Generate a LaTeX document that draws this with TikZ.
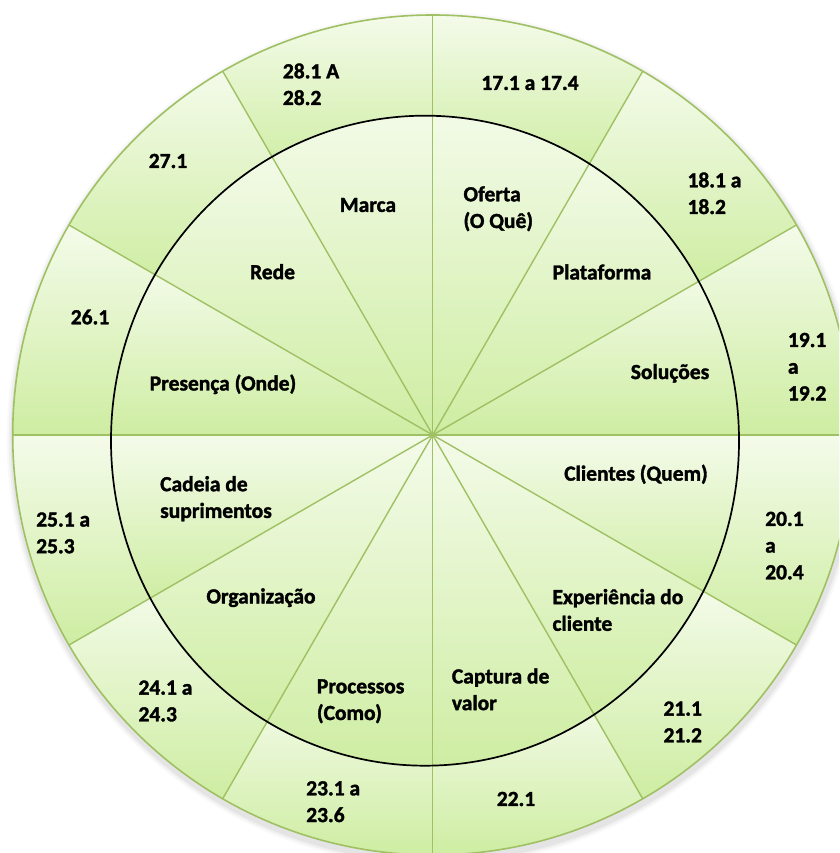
\documentclass[tikz,border=0pt]{standalone}
\usepackage{fontspec}
\setmainfont{Carlito}
\newfontfamily\lblfont{Carlito}[BoldFeatures={FakeBold=1.6}]
\usetikzlibrary{calc}
\definecolor{ringtop}{RGB}{244,251,234}
\definecolor{ringbot}{RGB}{206,237,162}
\definecolor{spokecol}{RGB}{160,192,100}
\tikzset{
  lbl/.style={font=\lblfont\bfseries\fontsize{21.5}{26.7}\selectfont, inner sep=0pt, align=left, text=black},
  seg/.style={top color=ringtop, bottom color=ringbot, draw=none},
  spokeline/.style={draw=spokecol, line width=1.4pt},
  outerline/.style={draw=spokecol, line width=1.6pt},
}
\begin{document}
\begin{tikzpicture}[x=1pt,y=1pt]
\useasboundingbox (0,0) rectangle (839,853);
\clip (0,0) rectangle (839,853);
\coordinate (C) at (432.7,418);
\coordinate (E) at (425,412.3);
% soft shadow
\foreach \r/\o in {427/0.025,425/0.035,423/0.05}{
  \fill[black,opacity=\o] ($(C)+(1,-4)$) circle (\r);
}
% outer ring segments
\foreach \a in {0,30,...,330}{
  \pgfmathsetmacro\b{\a+30}
  \shade[seg] ($(C)+(\a:420)$) arc[start angle=\a,end angle=\b,radius=420]
     -- ($(C)+(\b:300)$) arc[start angle=\b,end angle=\a,radius=300] -- cycle;
}
% inner wedges
\begin{scope}
  \clip (E) ellipse [x radius=314, y radius=325];
  \foreach \a in {0,30,...,330}{
    \pgfmathsetmacro\b{\a+30}
    \shade[seg] (C) -- ($(C)+(\a:335)$) arc[start angle=\a,end angle=\b,radius=335] -- cycle;
  }
\end{scope}
% spokes
\foreach \a in {0,30,...,330}{
  \draw[spokeline] (C) -- ($(C)+(\a:420)$);
}
\draw[outerline] (C) circle (420);
\draw[black, line width=1.7pt] (E) ellipse [x radius=314, y radius=325];
% outer labels
\node[lbl] (o17) at (530,770) {17.1 a 17.4};
\node[lbl,anchor=west] (o18) at (687.3,659.7) {18.1 a\\18.2};
\node[lbl,anchor=west] (o19) at (787.7,486.3) {19.1\\a\\19.2};
\node[lbl,anchor=west] (o20) at (765,307.4) {20.1\\a\\20.4};
\node[lbl,anchor=west] (o21) at (663.3,131) {21.1\\21.2};
\node[lbl] (o22) at (516,54) {22.1};
\node[lbl,anchor=west] (o23) at (306,51.3) {23.1 a\\23.6};
\node[lbl,anchor=west] (o24) at (138.3,152) {24.1 a\\24.3};
\node[lbl,anchor=west] (o25) at (36,320.1) {25.1 a\\25.3};
\node[lbl] (o26) at (90,536) {26.1};
\node[lbl] (o27) at (168,692) {27.1};
\node[lbl,anchor=west] (o28) at (282.7,768.7) {28.1 A\\28.2};
% inner labels
\node[lbl,anchor=west] (i1) at (463.3,644.2) {Oferta\\(O Quê)};
\node[lbl] (i2) at (602,581) {Plataforma};
\node[lbl] (i3) at (670,479.7) {Soluções};
\node[lbl] (i4) at (636,378.7) {Clientes (Quem)};
\node[lbl,anchor=west] (i5) at (552.3,243) {Experiência do\\cliente};
\node[lbl,anchor=west] (i6) at (451.7,163.7) {Captura de\\valor};
\node[lbl,anchor=west] (i7) at (316.7,151.7) {Processos\\(Como)};
\node[lbl] (i8) at (261,255.3) {Organização};
\node[lbl,anchor=west] (i9) at (160,354.3) {Cadeia de\\suprimentos};
\node[lbl] (i10) at (223,468.7) {Presença (Onde)};
\node[lbl] (i11) at (272.5,581.3) {Rede};
\node[lbl] (i12) at (368,648) {Marca};
\end{tikzpicture}
\end{document}
